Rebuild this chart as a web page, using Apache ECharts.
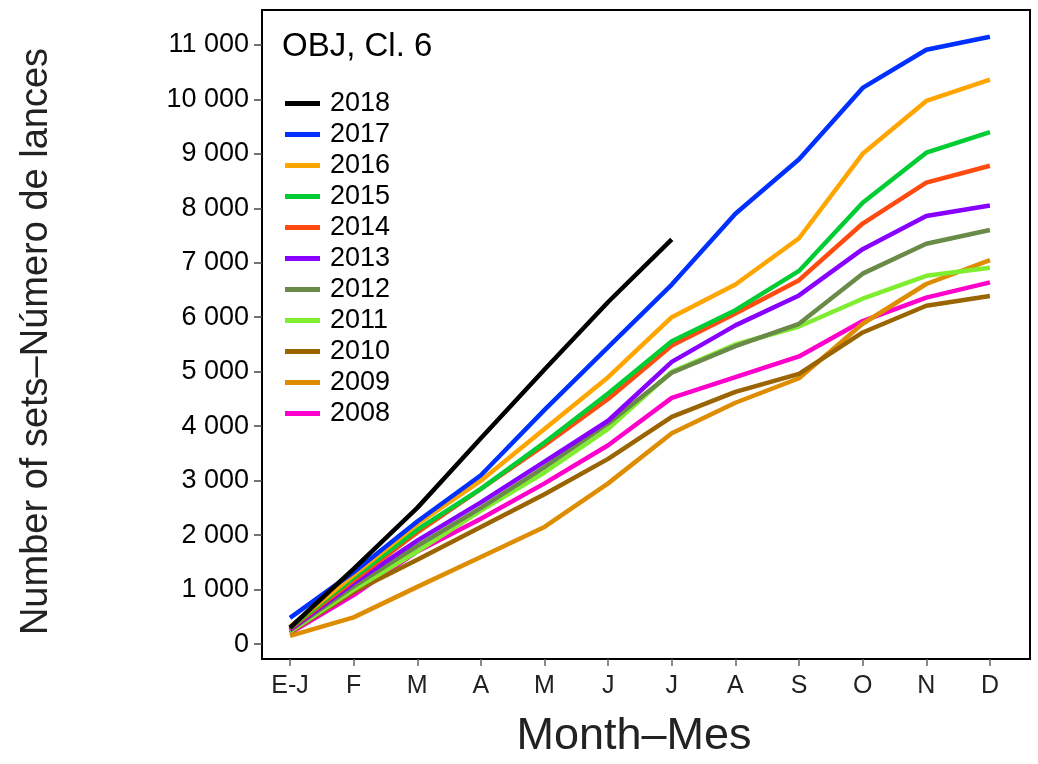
<!DOCTYPE html>
<html>
<head>
<meta charset="utf-8">
<script src="https://cdn.jsdelivr.net/npm/echarts@6/dist/echarts.min.js"></script>
<style>
  html, body { margin: 0; padding: 0; background: #fff; }
  #chart { width: 1038px; height: 764px; }
</style>
</head>
<body>
<div id="chart"></div>
<script>
var months = ['E-J', 'F', 'M', 'A', 'M', 'J', 'J', 'A', 'S', 'O', 'N', 'D'];
var yTicks = [0, 1000, 2000, 3000, 4000, 5000, 6000, 7000, 8000, 9000, 10000, 11000];

var y2018 = [300, 1380, 2500, 3780, 5040, 6280, 7430];
var y2017 = [480, 1320, 2250, 3100, 4300, 5450, 6600, 7900, 8900, 10210, 10910, 11150];
var y2016 = [320, 1270, 2200, 3000, 3950, 4900, 6000, 6600, 7450, 9000, 9970, 10360];
var y2015 = [300, 1220, 2100, 2850, 3700, 4600, 5560, 6130, 6850, 8100, 9020, 9400];
var y2014 = [280, 1170, 2050, 2850, 3650, 4500, 5480, 6070, 6680, 7720, 8470, 8780];
var y2013 = [260, 1120, 1900, 2600, 3350, 4100, 5180, 5850, 6400, 7250, 7860, 8050];
var y2012 = [250, 1060, 1800, 2500, 3250, 4050, 4980, 5470, 5880, 6800, 7350, 7600];
var y2011 = [230, 1000, 1700, 2450, 3150, 3950, 5000, 5500, 5830, 6340, 6760, 6910];
var y2010 = [220, 960, 1550, 2150, 2750, 3400, 4170, 4630, 4960, 5720, 6210, 6390];
var y2009 = [150, 490, 1050, 1600, 2150, 2950, 3870, 4430, 4880, 5880, 6610, 7050];
var y2008 = [200, 900, 1700, 2300, 2950, 3650, 4520, 4900, 5280, 5930, 6360, 6640];

var years = ['2018', '2017', '2016', '2015', '2014', '2013', '2012', '2011', '2010', '2009', '2008'];
var values = [y2018, y2017, y2016, y2015, y2014, y2013, y2012, y2011, y2010, y2009, y2008];
var colors = ['#000000', '#0030ff', '#ffa500', '#00cc33', '#ff4a10', '#8800ff',
              '#6a8a48', '#80ee30', '#9a6400', '#de8c00', '#ff00cc'];

function toPoints(arr) {
    return arr.map(function (v, i) { return [i, v]; });
}

var series = [];
for (var k = years.length - 1; k >= 0; k--) {
    series.push({
        name: years[k],
        type: 'line',
        data: toPoints(values[k]),
        symbol: 'none',
        lineStyle: { color: colors[k], width: 4.5 },
        itemStyle: { color: colors[k] },
        z: 10 + (years.length - k)
    });
}

var monthIdx = months.map(function (m, i) { return i; });

var option = {
    animation: false,
    backgroundColor: '#fff',
    title: {
        text: 'OBJ, Cl. 6',
        left: 277,
        top: 25,
        textStyle: { fontFamily: 'Liberation Sans', fontSize: 33, fontWeight: 'normal', color: '#000' }
    },
    legend: {
        data: years,
        orient: 'vertical',
        left: 280,
        top: 85,
        icon: 'rect',
        itemWidth: 35,
        itemHeight: 5,
        itemGap: 4,
        textStyle: { fontFamily: 'Liberation Sans', fontSize: 27, color: '#000', padding: [0, 0, 0, 5] }
    },
    grid: {
        left: 262,
        right: 8,
        top: 10,
        bottom: 102,
        show: true,
        borderColor: '#000',
        borderWidth: 2,
        backgroundColor: '#fff'
    },
    xAxis: {
        type: 'value',
        min: -0.44,
        max: 11.63,
        name: 'Month\u2013Mes',
        nameLocation: 'middle',
        nameGap: 55,
        nameTextStyle: { fontFamily: 'Liberation Sans', fontSize: 45, color: '#222', padding: [0, 24, 0, 0] },
        axisLine: { show: false, onZero: false },
        splitLine: { show: false },
        axisTick: {
            show: true,
            length: 7,
            customValues: monthIdx,
            lineStyle: { color: '#666', width: 1.5 }
        },
        axisLabel: {
            customValues: monthIdx,
            formatter: function (v) { return months[v]; },
            margin: 15,
            fontFamily: 'Liberation Sans',
            fontSize: 25,
            color: '#222'
        }
    },
    yAxis: {
        type: 'value',
        min: -274,
        max: 11640,
        name: 'Number of sets\u2013N\u00famero de lances',
        nameLocation: 'middle',
        nameGap: 206,
        nameTextStyle: { fontFamily: 'Liberation Sans', fontSize: 38, color: '#222', padding: [0, 14, 0, 0] },
        axisLine: { show: false, onZero: false },
        splitLine: { show: false },
        axisTick: {
            show: true,
            length: 8,
            customValues: yTicks,
            lineStyle: { color: '#444', width: 1.5 }
        },
        axisLabel: {
            customValues: yTicks,
            formatter: function (v) {
                return String(v).replace(/\B(?=(\d{3})+(?!\d))/g, ' ');
            },
            margin: 13,
            fontFamily: 'Liberation Sans',
            fontSize: 27,
            color: '#000'
        }
    },
    series: series
};

var mychart = echarts.init(document.getElementById('chart'));
mychart.setOption(option);
</script>
</body>
</html>
